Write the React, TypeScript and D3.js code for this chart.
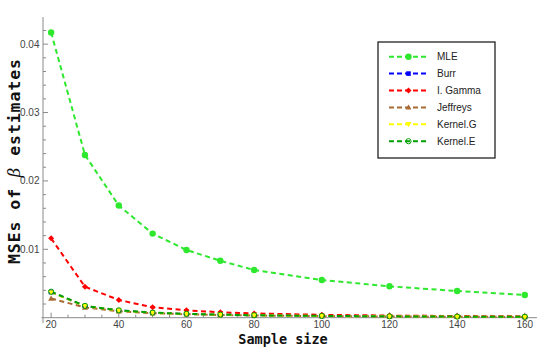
import React from "react";
import * as d3 from "d3";

const sampleSizes = [20, 30, 40, 50, 60, 70, 80, 100, 120, 140, 160];
const mle = [0.0417, 0.0238, 0.0164, 0.0123, 0.0099, 0.00833, 0.00697, 0.00551, 0.00459, 0.0039, 0.00332];
const burr = [0.00375, 0.0017, 0.00107, 0.00073, 0.00056, 0.00045, 0.00036, 0.00026, 0.0002, 0.00016, 0.00013];
const iGamma = [0.0116, 0.00453, 0.00259, 0.00152, 0.00108, 0.0008, 0.00062, 0.00042, 0.00031, 0.00024, 0.00019];
const jeffreys = [0.0028, 0.0015, 0.00095, 0.00066, 0.0005, 0.0004, 0.00032, 0.00023, 0.00018, 0.00014, 0.00011];
const kernelG = [0.0037, 0.0017, 0.00105, 0.00072, 0.00055, 0.00044, 0.00035, 0.00025, 0.00019, 0.00015, 0.00012];
const kernelE = [0.0038, 0.00172, 0.00108, 0.00074, 0.00056, 0.00045, 0.00036, 0.00026, 0.0002, 0.00016, 0.00013];

const seriesNames = ["MLE", "Burr", "I. Gamma", "Jeffreys", "Kernel.G", "Kernel.E"];
const seriesValues = [mle, burr, iGamma, jeffreys, kernelG, kernelE];
const seriesColors = ["#2ee82e", "#0000ff", "#ff0000", "#a86a34", "#ffff00", "#00a000"];
const seriesMarkers = ["circle", "square", "diamond", "triangleUp", "triangleDown", "openCircle"];

const xMajorTicks = [20, 40, 60, 80, 100, 120, 140, 160];
const yMajorTicks = [0.01, 0.02, 0.03, 0.04];
const yTickLabels = ["0.01", "0.02", "0.03", "0.04"];

const W = 545;
const H = 348;

function Marker({ kind, x, y, color }: { kind: string; x: number; y: number; color: string }) {
  switch (kind) {
    case "circle":
      return <circle cx={x} cy={y} r={3.2} fill={color} />;
    case "square":
      return <rect x={x - 2.3} y={y - 2.3} width={4.6} height={4.6} fill={color} />;
    case "diamond":
      return <path d={`M${x},${y - 3}L${x + 3},${y}L${x},${y + 3}L${x - 3},${y}Z`} fill={color} />;
    case "triangleUp":
      return <path d={`M${x},${y - 3}L${x + 3},${y + 2.2}L${x - 3},${y + 2.2}Z`} fill={color} />;
    case "triangleDown":
      return <path d={`M${x},${y + 3}L${x + 3},${y - 2.2}L${x - 3},${y - 2.2}Z`} fill={color} />;
    case "openCircle":
      return <circle cx={x} cy={y} r={2.6} fill="none" stroke={color} strokeWidth={1} />;
    default:
      return null;
  }
}

export default function App() {
  const x = d3.scaleLinear().domain([17.6, 163.6]).range([43, 537]);
  const y = d3.scaleLinear().domain([0, 0.04397]).range([317.7, 17]);
  const x0 = x(17.6);
  const y0 = y(0);

  const line = d3
    .line<[number, number]>()
    .x((d) => x(d[0]))
    .y((d) => y(d[1]));

  const xMinor = d3.range(20, 164, 5).filter((v) => v % 20 !== 0);
  const yMinor = d3.range(0.002, 0.0435, 0.002).filter((v) => Math.abs(v * 100 - Math.round(v * 100)) > 1e-6);

  const tickFont = "'Liberation Sans', Arial, sans-serif";
  const monoFont = "'DejaVu Sans Mono', monospace";

  const legendX = 378;
  const legendY = 42;
  const legendRowY = (i: number) => 56.7 + i * 16.9;

  return (
    <svg width={W} height={H} style={{ position: "absolute", left: 0, top: 0, background: "#fff" }}>
      {/* axes */}
      <line x1={41.5} x2={537} y1={y0} y2={y0} stroke="#8a8a8a" strokeWidth={1} />
      <line x1={x0} x2={x0} y1={17} y2={323} stroke="#8a8a8a" strokeWidth={1} />
      {xMajorTicks.map((t) => (
        <line key={"xM" + t} x1={x(t)} x2={x(t)} y1={y0} y2={y0 - 5} stroke="#8a8a8a" />
      ))}
      {xMinor.map((t) => (
        <line key={"xm" + t} x1={x(t)} x2={x(t)} y1={y0} y2={y0 - 3} stroke="#8a8a8a" />
      ))}
      {yMajorTicks.map((t) => (
        <line key={"yM" + t} x1={x0} x2={x0 + 5} y1={y(t)} y2={y(t)} stroke="#8a8a8a" />
      ))}
      {yMinor.map((t) => (
        <line key={"ym" + t} x1={x0} x2={x0 + 3} y1={y(t)} y2={y(t)} stroke="#8a8a8a" />
      ))}
      {xMajorTicks.map((t) => (
        <text key={"xl" + t} x={x(t)} y={328} textAnchor="middle" fontSize={10} fontFamily={tickFont} fill="#444">
          {t}
        </text>
      ))}
      {yMajorTicks.map((t, i) => (
        <text key={"yl" + t} x={39.5} y={y(t) + 3.5} textAnchor="end" fontSize={10} fontFamily={tickFont} fill="#444">
          {yTickLabels[i]}
        </text>
      ))}

      {/* lines */}
      {seriesValues.map((vals, i) => (
        <path
          key={"line" + i}
          d={line(sampleSizes.map((s, j) => [s, vals[j]] as [number, number])) || ""}
          fill="none"
          stroke={seriesColors[i]}
          strokeWidth={2}
          strokeDasharray="5,3.5"
        />
      ))}
      {/* markers */}
      {seriesValues.map((vals, i) =>
        sampleSizes.map((s, j) => (
          <Marker key={"m" + i + "-" + j} kind={seriesMarkers[i]} x={x(s)} y={y(vals[j])} color={seriesColors[i]} />
        ))
      )}

      {/* axis labels */}
      <text x={283} y={344} textAnchor="middle" fontSize={13.5} fontWeight="bold" fontFamily={monoFont} fill="#111">
        Sample size
      </text>
      <text
        transform={`translate(19.5,161.5) rotate(-90)`}
        x={-102.5}
        textLength={205}
        lengthAdjust="spacing"
        fontSize={16.5}
        fontWeight="bold"
        fontFamily={monoFont}
        fill="#111"
      >
        MSEs of <tspan fontStyle="italic" fontWeight="normal" fontFamily="'DejaVu Serif', serif">β</tspan> estimates
      </text>

      {/* legend */}
      <rect x={legendX} y={legendY} width={117} height={116} fill="#fff" stroke="#222" strokeWidth={1.3} />
      {seriesNames.map((name, i) => {
        const ry = legendRowY(i);
        return (
          <g key={"leg" + i}>
            <line x1={389} x2={428} y1={ry} y2={ry} stroke={seriesColors[i]} strokeWidth={2} strokeDasharray="5,3" />
            <Marker kind={seriesMarkers[i]} x={408.5} y={ry} color={seriesColors[i]} />
            <text x={437} y={ry + 3.6} fontSize={10} fontFamily={tickFont} fill="#222">
              {name}
            </text>
          </g>
        );
      })}
    </svg>
  );
}
